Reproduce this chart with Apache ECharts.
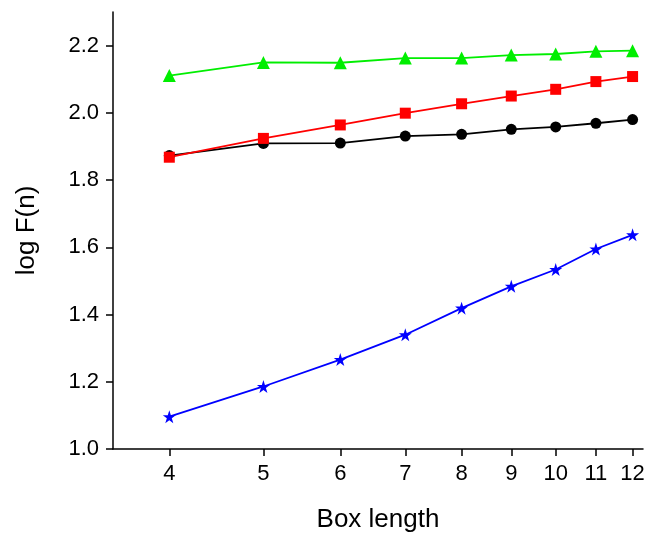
<!DOCTYPE html>
<html>
<head>
<meta charset="utf-8">
<script src="https://cdn.jsdelivr.net/npm/echarts@6/dist/echarts.min.js"></script>
<style>
  html, body { margin: 0; padding: 0; background: #fff; }
  #chart { width: 646px; height: 533px; }
</style>
</head>
<body>
<div id="chart"></div>
<script>
// box lengths (x, log axis)
const boxLen = [4, 5, 6, 7, 8, 9, 10, 11, 12]
const xTicks = [4, 5, 6, 7, 8, 9, 10, 11, 12]
const yTicks = [1.0, 1.2, 1.4, 1.6, 1.8, 2.0, 2.2]
// log F(n) for each series
const blackVals = [1.873, 1.909, 1.910, 1.931, 1.936, 1.951, 1.958, 1.969, 1.980]
const redVals = [1.868, 1.924, 1.964, 1.999, 2.027, 2.050, 2.070, 2.093, 2.108]
const greenVals = [2.111, 2.150, 2.149, 2.163, 2.163, 2.172, 2.175, 2.183, 2.185]
const blueVals = [1.096, 1.186, 1.266, 1.340, 1.419, 1.484, 1.534, 1.595, 1.637]

const font = '"Liberation Sans", Arial, Helvetica, sans-serif'
const star = 'path://M50,0 L61.8,36.2 L100,36.2 L69.1,58.6 L80.9,95.1 L50,72.7 L19.1,95.1 L30.9,58.6 L0,36.2 L38.2,36.2 Z'

const pairs = vals => boxLen.map((x, i) => [x, vals[i]])

const mkSeries = (vals, color, symbol, size) => ({
  type: 'line',
  data: pairs(vals),
  symbol: symbol,
  symbolSize: size,
  showAllSymbol: true,
  lineStyle: { color: color, width: 1.8 },
  itemStyle: { color: color },
  emphasis: { disabled: true }
})

const myChart = echarts.init(document.querySelector('#chart'))
const option = {
  animation: false,
  grid: { left: 113, right: 3, top: 12, bottom: 84, outerBoundsMode: 'none', containLabel: false },
  xAxis: {
    type: 'log',
    logBase: 10,
    min: 3.5,
    max: 12.3,
    name: 'Box length',
    nameLocation: 'middle',
    nameGap: 58,
    nameTextStyle: { fontFamily: font, fontSize: 26, color: '#000' },
    axisLine: { lineStyle: { color: '#000', width: 1.5 } },
    axisTick: { inside: false, length: 7, lineStyle: { color: '#000', width: 1.5 }, customValues: xTicks },
    axisLabel: { customValues: xTicks, margin: 14, fontFamily: font, fontSize: 22, color: '#000',
      formatter: v => String(Math.round(v)) },
    splitLine: { show: false },
    minorTick: { show: false }
  },
  yAxis: {
    type: 'value',
    min: 1.0,
    max: 2.3,
    interval: 0.2,
    name: 'log F(n)',
    nameLocation: 'middle',
    nameGap: 73,
    nameTextStyle: { fontFamily: font, fontSize: 26, color: '#000' },
    axisLine: { show: true, lineStyle: { color: '#000', width: 1.5 } },
    axisTick: { show: true, length: 7, lineStyle: { color: '#000', width: 1.5 }, customValues: yTicks },
    axisLabel: { customValues: yTicks, margin: 14, fontFamily: font, fontSize: 22, color: '#000',
      formatter: v => Number(v).toFixed(1) },
    splitLine: { show: false }
  },
  series: [
    mkSeries(blackVals, '#000000', 'circle', 11),
    mkSeries(redVals, '#ff0000', 'rect', 11),
    mkSeries(greenVals, '#00ee00', 'triangle', 13),
    mkSeries(blueVals, '#0000ff', star, 13)
  ]
}
myChart.setOption(option)
</script>
</body>
</html>
